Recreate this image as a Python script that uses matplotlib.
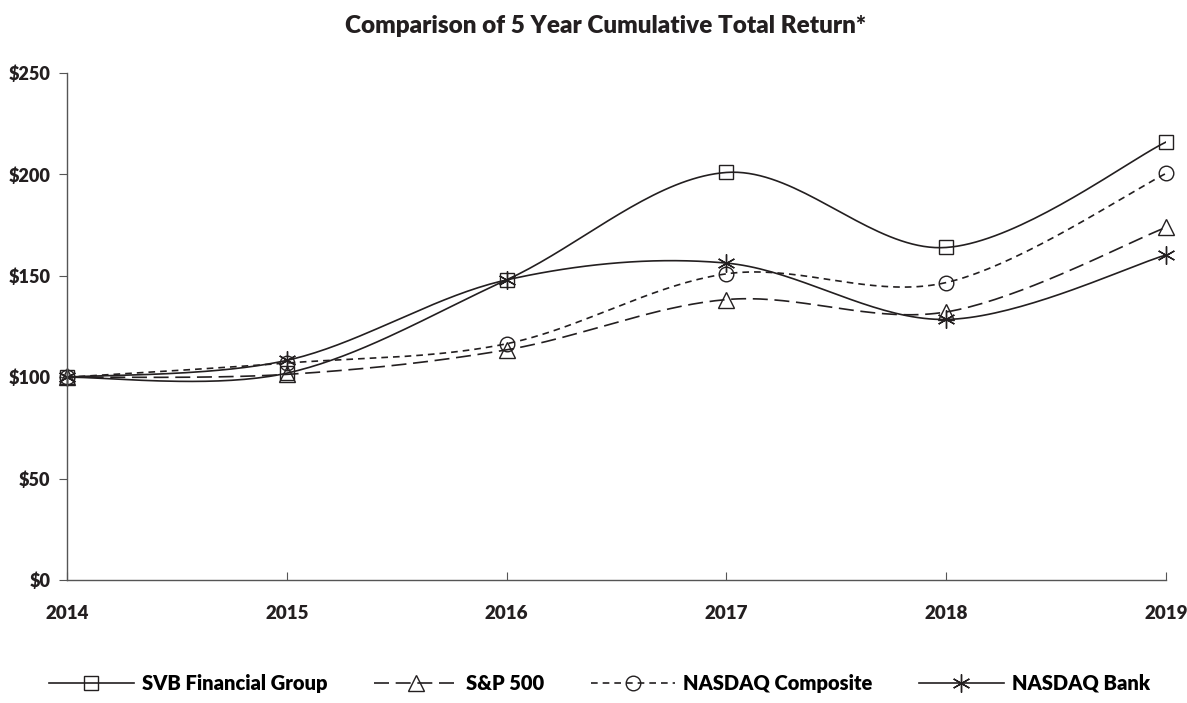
import numpy as np
import matplotlib
matplotlib.use("Agg")
import matplotlib.pyplot as plt

plt.rcParams['font.family'] = ['Lato', 'DejaVu Sans']
plt.rcParams['font.weight'] = 'bold'

years = [2014, 2015, 2016, 2017, 2018, 2019]
svb = [100, 102, 148, 201, 164, 216]
sp500 = [100, 101.4, 113.5, 138.3, 132.2, 173.9]
nasdaq_comp = [100, 107, 116.5, 151, 146.7, 200.5]
nasdaq_bank = [100, 108.3, 148, 156.3, 128.5, 160.3]
y_ticks = [0, 50, 100, 150, 200, 250]
y_labels = ["$0", "$50", "$100", "$150", "$200", "$250"]

INK = "#231f20"
FW = "heavy"


# Excel style smoothed line (cubic bezier, catmull-rom control points)
def smooth(xs, ys, n=40):
    pts = np.column_stack([np.asarray(xs, float), np.asarray(ys, float)])
    out = []
    for i in range(len(pts) - 1):
        p0 = pts[max(i - 1, 0)]
        p1 = pts[i]
        p2 = pts[i + 1]
        p3 = pts[min(i + 2, len(pts) - 1)]
        c1 = p1 + (p2 - p0) / 6
        c2 = p2 - (p3 - p1) / 6
        t = np.linspace(0, 1, n)[:, None]
        seg = (1 - t) ** 3 * p1 + 3 * (1 - t) ** 2 * t * c1 + 3 * (1 - t) * t ** 2 * c2 + t ** 3 * p2
        out.append(seg if i == 0 else seg[1:])
    out = np.vstack(out)
    return out[:, 0], out[:, 1]


fig = plt.figure(figsize=(11.87, 7.03), dpi=100)
ax = fig.add_axes([0.0564, 0.175, 0.9259, 0.721])

asterisk = (6, 2, 0)
series = [
    ("SVB Financial Group", svb, "-", "s", 10),
    ("S&P 500", sp500, (0, (9, 4)), "^", 11),
    ("NASDAQ Composite", nasdaq_comp, (0, (4, 3)), "o", 10.5),
    ("NASDAQ Bank", nasdaq_bank, "-", asterisk, 13),
]

handles = []
for name, vals, ls, mk, ms in series:
    sx, sy = smooth(years, vals)
    ax.plot(sx, sy, color=INK, lw=1.2, linestyle=ls)
    ax.plot(years, vals, linestyle="none", marker=mk, markersize=ms, clip_on=False,
            markerfacecolor="none", markeredgecolor=INK, markeredgewidth=1.0)
    h, = ax.plot([], [], color=INK, lw=1.2, linestyle=ls, marker=mk, markersize=ms,
                 markerfacecolor="none", markeredgecolor=INK, markeredgewidth=1.0,
                 label=name)
    handles.append(h)

ax.set_xlim(2014, 2019)
ax.set_ylim(0, 250)
ax.set_xticks(years)
ax.set_xticklabels([str(y) for y in years], fontsize=13.5, fontweight=FW, color=INK)
ax.set_yticks(y_ticks)
ax.set_yticklabels(y_labels, fontsize=13, fontweight=FW, color=INK)
ax.tick_params(axis="x", direction="in", length=6, pad=18, color="#555555")
ax.tick_params(axis="y", direction="out", length=6, pad=6, color="#555555")
for s in ["top", "right"]:
    ax.spines[s].set_visible(False)
for s in ["left", "bottom"]:
    ax.spines[s].set_color("#555555")
    ax.spines[s].set_linewidth(1.0)

fig.text(0.51, 0.963, "Comparison of 5 Year Cumulative Total Return*", fontsize=17.5,
         fontweight=FW, color=INK, ha="center", va="center")

fig.legend(handles=handles, loc="center", bbox_to_anchor=(0.505, 0.028), ncol=4,
           frameon=False, handlelength=4.2, columnspacing=2.3,
           handletextpad=0.4, prop={"weight": FW, "size": 14.5})

fig.savefig("out.png", dpi=100)
